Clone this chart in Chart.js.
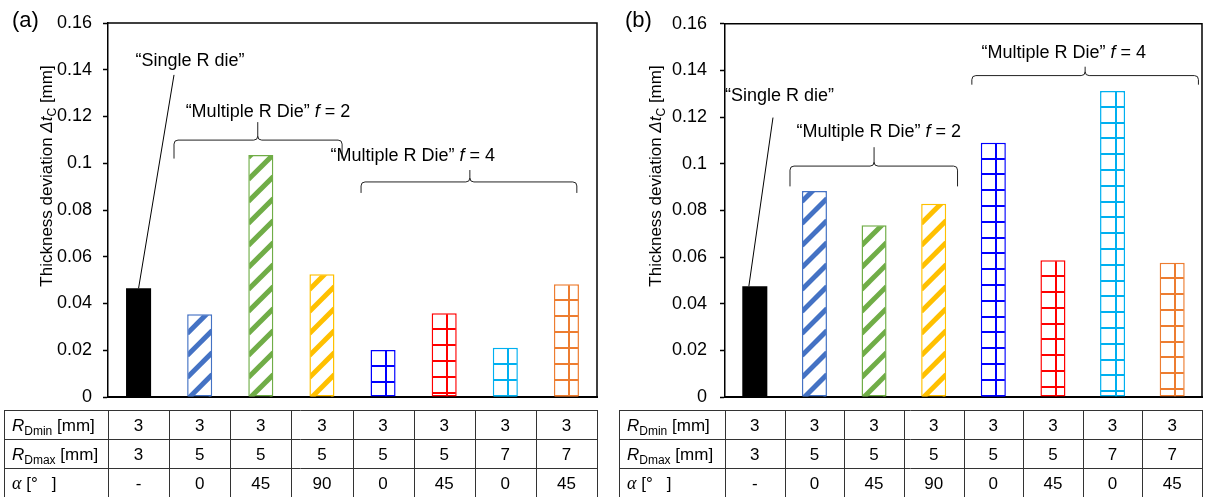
<!DOCTYPE html>
<html>
<head>
<meta charset="utf-8">
<script src="https://cdn.jsdelivr.net/npm/chart.js@4.4.0/dist/chart.umd.min.js"></script>
<style>
  body { margin: 0; background: #fff; width: 1205px; height: 497px; overflow: hidden; position: relative; }
  .panel { position: absolute; top: 0; }
  #wrapA { left: 0; }
  #wrapB { left: 602px; }
</style>
</head>
<body>
<div class="panel" id="wrapA"><canvas id="chartA" width="602" height="497"></canvas></div>
<div class="panel" id="wrapB"><canvas id="chartB" width="603" height="497"></canvas></div>
<script>
// --- datos ---
const categories = ['Single R', 'f2 a0', 'f2 a45', 'f2 a90', 'f4 R5 a0', 'f4 R5 a45', 'f4 R7 a0', 'f4 R7 a45'];
const valuesA = [0.0465, 0.0354, 0.1035, 0.0525, 0.0201, 0.0358, 0.0211, 0.0482];
const valuesB = [0.0475, 0.0883, 0.0736, 0.0829, 0.1090, 0.0586, 0.1312, 0.0576];
const barColors = ['#000000', '#4472C4', '#70AD47', '#FFC000', '#0000FF', '#FF0000', '#00B0F0', '#ED7D31'];
const barFills = ['solid', 'stripe', 'stripe', 'stripe', 'grid', 'grid', 'grid', 'grid'];
const yTicks = [0, 0.02, 0.04, 0.06, 0.08, 0.1, 0.12, 0.14, 0.16];
const rDmin = ['3', '3', '3', '3', '3', '3', '3', '3'];
const rDmax = ['3', '5', '5', '5', '5', '5', '7', '7'];
const alphaDeg = ['-', '0', '45', '90', '0', '45', '0', '45'];

const FONT = "'Liberation Sans', Arial, sans-serif";

// --- configuración de cada panel (posiciones en unidades de datos: índice de categoría / valor) ---
const layoutA = {
  panel: '(a)', panelX: 12,
  axisWidth: 108, padRight: 5, tickPad: 11,
  titleX: 46, titleY: 176,
  tableLeft: 4, gridStep: 16, barPct: 0.41,
  values: valuesA,
  leader: { from: [0.58, 0.1378], toIndex: 0 },
  texts: [
    { t: '\u201CSingle R die\u201D', i: -0.05, v: 0.1415, f: null },
    { t: '\u201CMultiple R Die\u201D ', i: 0.77, v: 0.1200, f: '2' },
    { t: '\u201CMultiple R Die\u201D ', i: 3.14, v: 0.1010, f: '4' }
  ],
  braces: [
    { i1: 0.58, i2: 3.33, im: 1.95, vLine: 0.1099, vEnd: 0.1020, vPeak: 0.1176 },
    { i1: 3.64, i2: 7.17, im: 5.42, vLine: 0.0920, vEnd: 0.0873, vPeak: 0.0971 }
  ]
};
const layoutB = {
  panel: '(b)', panelX: 23,
  axisWidth: 123, padRight: 3, tickPad: 13,
  titleX: 53, titleY: 176,
  tableLeft: 17, gridStep: 15.8, barPct: 0.42,
  values: valuesB,
  leader: { from: [0.305, 0.1198], toIndex: -0.1 },
  texts: [
    { t: '\u201CSingle R die\u201D', i: -0.5, v: 0.1268, f: null },
    { t: '\u201CMultiple R Die\u201D ', i: 0.7, v: 0.1113, f: '2' },
    { t: '\u201CMultiple R Die\u201D ', i: 3.8, v: 0.1453, f: '4' }
  ],
  braces: [
    { i1: 0.59, i2: 3.40, im: 2.0, vLine: 0.0990, vEnd: 0.0903, vPeak: 0.1071 },
    { i1: 3.64, i2: 7.44, im: 5.54, vLine: 0.1378, vEnd: 0.1339, vPeak: 0.1416 }
  ]
};

// dibuja una serie de trozos de texto con fuentes distintas
function drawRuns(ctx, runs, x, y, align) {
  let total = 0;
  runs.forEach(r => { ctx.font = r.f; total += ctx.measureText(r.t).width; });
  let cx = align === 'center' ? x - total / 2 : x;
  ctx.textAlign = 'left';
  ctx.textBaseline = 'alphabetic';
  runs.forEach(r => {
    ctx.font = r.f;
    ctx.fillText(r.t, cx, y + (r.dy || 0));
    cx += ctx.measureText(r.t).width;
  });
}

function drawBrace(ctx, x1, x2, xm, yLine, yEnd, yPeak) {
  const r = 4;
  ctx.beginPath();
  ctx.moveTo(x1, yEnd);
  ctx.lineTo(x1, yLine + r);
  ctx.quadraticCurveTo(x1, yLine, x1 + r, yLine);
  ctx.lineTo(xm - r, yLine);
  ctx.quadraticCurveTo(xm, yLine, xm, yLine - r);
  ctx.lineTo(xm, yPeak);
  ctx.moveTo(xm, yLine - r);
  ctx.quadraticCurveTo(xm, yLine, xm + r, yLine);
  ctx.lineTo(x2 - r, yLine);
  ctx.quadraticCurveTo(x2, yLine, x2, yLine + r);
  ctx.lineTo(x2, yEnd);
  ctx.stroke();
}

const decorPlugin = {
  id: 'decor',
  afterDatasetsDraw(chart, args, L) {
    const ctx = chart.ctx;
    const meta = chart.getDatasetMeta(0);
    meta.data.forEach((bar, i) => {
      const kind = barFills[i];
      if (kind === 'solid') return;
      const left = bar.x - bar.width / 2, right = bar.x + bar.width / 2;
      const top = bar.y, bottom = bar.base;
      ctx.save();
      ctx.beginPath();
      ctx.rect(left + 1, top + 1, right - left - 2, bottom - top - 1);
      ctx.clip();
      ctx.strokeStyle = barColors[i];
      if (kind === 'stripe') {
        // rayado diagonal "/"
        ctx.lineWidth = 5;
        const P = 22, w = right - left;
        for (let y = bottom + w; y > top - P; y -= P) {
          ctx.beginPath();
          ctx.moveTo(left, y);
          ctx.lineTo(right, y - w);
          ctx.stroke();
        }
      } else {
        // cuadrícula
        ctx.lineWidth = 2;
        ctx.beginPath();
        const vx = Math.round(bar.x + 3);
        ctx.moveTo(vx, top);
        ctx.lineTo(vx, bottom);
        for (let y = top + L.gridStep; y < bottom; y += L.gridStep) {
          ctx.moveTo(left, Math.round(y));
          ctx.lineTo(right, Math.round(y));
        }
        ctx.stroke();
      }
      ctx.restore();
    });
  },
  afterDraw(chart, args, L) {
    const ctx = chart.ctx;
    const area = chart.chartArea;
    const xs = chart.scales.x, ys = chart.scales.y;
    ctx.save();

    // marco superior y derecho
    ctx.strokeStyle = '#000';
    ctx.lineWidth = 1.5;
    ctx.beginPath();
    ctx.moveTo(area.left, area.top);
    ctx.lineTo(area.right, area.top);
    ctx.lineTo(area.right, area.bottom);
    ctx.stroke();

    // etiqueta del panel
    ctx.fillStyle = '#000';
    ctx.font = `22px ${FONT}`;
    ctx.textAlign = 'left';
    ctx.textBaseline = 'alphabetic';
    ctx.fillText(L.panel, L.panelX, 27);

    // título eje Y
    ctx.save();
    ctx.translate(L.titleX, L.titleY);
    ctx.rotate(-Math.PI / 2);
    drawRuns(ctx, [
      { t: 'Thickness deviation ', f: `17px ${FONT}` },
      { t: '\u0394t', f: `italic 17px ${FONT}` },
      { t: 'C', f: `12px ${FONT}`, dy: 4 },
      { t: ' [mm]', f: `17px ${FONT}` }
    ], 0, 6, 'center');
    ctx.restore();

    // anotaciones
    ctx.strokeStyle = '#000';
    ctx.lineWidth = 1;
    const ld = L.leader;
    ctx.beginPath();
    ctx.moveTo(xs.getPixelForValue(ld.from[0]), ys.getPixelForValue(ld.from[1]));
    ctx.lineTo(xs.getPixelForValue(ld.toIndex), ys.getPixelForValue(L.values[0]));
    ctx.stroke();

    ctx.strokeStyle = '#222';
    L.braces.forEach(b => {
      drawBrace(ctx,
        xs.getPixelForValue(b.i1), xs.getPixelForValue(b.i2), xs.getPixelForValue(b.im),
        ys.getPixelForValue(b.vLine), ys.getPixelForValue(b.vEnd), ys.getPixelForValue(b.vPeak));
    });

    ctx.fillStyle = '#000';
    L.texts.forEach(a => {
      const runs = [{ t: a.t, f: `18px ${FONT}` }];
      if (a.f) {
        runs.push({ t: 'f', f: `italic 18px ${FONT}` });
        runs.push({ t: ' = ' + a.f, f: `18px ${FONT}` });
      }
      drawRuns(ctx, runs, xs.getPixelForValue(a.i), ys.getPixelForValue(a.v), 'left');
    });

    // tabla inferior
    const rowTop = 410, rowH = 29;
    const catW = (area.right - area.left) / categories.length;
    const right = area.right;
    ctx.strokeStyle = '#333';
    ctx.lineWidth = 1;
    ctx.beginPath();
    for (let r = 0; r <= 3; r++) {
      const y = Math.round(rowTop + r * rowH) + 0.5;
      ctx.moveTo(L.tableLeft, y);
      ctx.lineTo(right, y);
    }
    const vLines = [L.tableLeft, area.left];
    for (let c = 1; c <= categories.length; c++) vLines.push(area.left + c * catW);
    vLines.forEach(x => {
      const xx = Math.round(x) + 0.5;
      ctx.moveTo(xx, rowTop);
      ctx.lineTo(xx, rowTop + 3 * rowH);
    });
    ctx.stroke();

    const rowLabels = [
      [{ t: 'R', f: `italic 17px ${FONT}` }, { t: 'Dmin', f: `12px ${FONT}`, dy: 4 }, { t: ' [mm]', f: `17px ${FONT}` }],
      [{ t: 'R', f: `italic 17px ${FONT}` }, { t: 'Dmax', f: `12px ${FONT}`, dy: 4 }, { t: ' [mm]', f: `17px ${FONT}` }],
      [{ t: '\u03B1', f: `italic 18px 'Liberation Serif', serif` }, { t: ' [\u00B0   ]', f: `17px ${FONT}` }]
    ];
    const rows = [rDmin, rDmax, alphaDeg];
    ctx.fillStyle = '#000';
    rows.forEach((vals, r) => {
      const base = rowTop + r * rowH + 21;
      drawRuns(ctx, rowLabels[r], L.tableLeft + 8, base, 'left');
      vals.forEach((v, c) => {
        drawRuns(ctx, [{ t: v, f: `17px ${FONT}` }], xs.getPixelForValue(c), base, 'center');
      });
    });

    ctx.restore();
  }
};

function buildPanel(canvasId, L) {
  return new Chart(document.getElementById(canvasId), {
    type: 'bar',
    data: {
      labels: categories,
      datasets: [{
        data: L.values,
        backgroundColor: barColors.map((c, i) => barFills[i] === 'solid' ? c : '#ffffff'),
        borderColor: barColors,
        borderWidth: barFills.map(f => f === 'solid' ? 0 : 1.5),
        borderSkipped: false,
        barPercentage: L.barPct,
        categoryPercentage: 1
      }]
    },
    options: {
      responsive: false,
      animation: false,
      devicePixelRatio: 1,
      layout: { padding: { top: 23, right: L.padRight, bottom: 100, left: 0 } },
      plugins: {
        legend: { display: false },
        tooltip: { enabled: false },
        decor: L
      },
      scales: {
        x: {
          type: 'category',
          ticks: { display: false },
          grid: { display: false },
          border: { display: true, color: '#000', width: 2 },
          afterFit: s => { s.height = 0; }
        },
        y: {
          min: 0,
          max: 0.16,
          afterBuildTicks: s => { s.ticks = yTicks.map(v => ({ value: v })); },
          afterFit: s => { s.width = L.axisWidth; },
          ticks: {
            color: '#000',
            padding: L.tickPad,
            font: { family: FONT, size: 18 },
            callback: v => String(+v.toFixed(2))
          },
          grid: { drawOnChartArea: false, drawTicks: true, tickLength: 5, color: '#000', tickWidth: 1.5 },
          border: { color: '#000', width: 1.5 }
        }
      }
    },
    plugins: [decorPlugin]
  });
}

buildPanel('chartA', layoutA);
buildPanel('chartB', layoutB);
</script>
</body>
</html>
